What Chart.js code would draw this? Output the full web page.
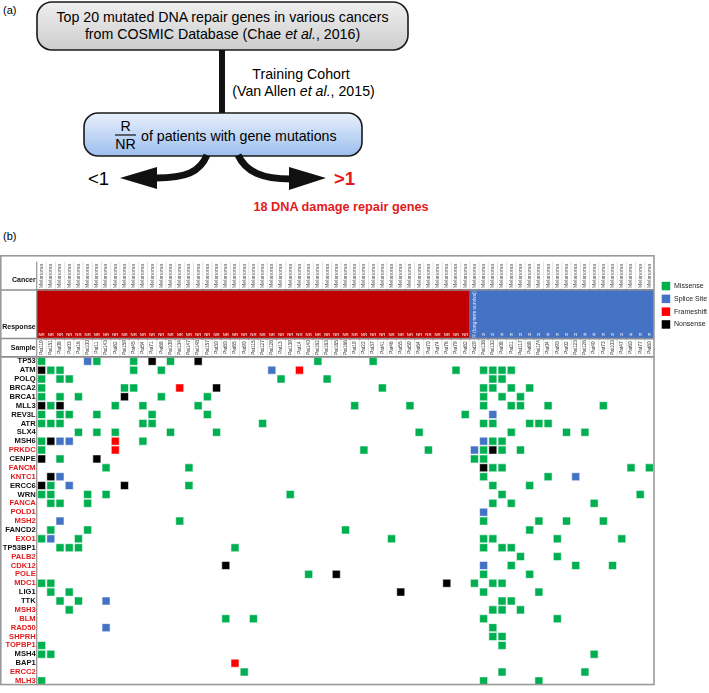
<!DOCTYPE html>
<html>
<head>
<meta charset="utf-8">
<script src="https://cdn.jsdelivr.net/npm/chart.js@4.4.0/dist/chart.umd.min.js"></script>
<style>
  html, body { margin: 0; padding: 0; background: #fff; }
  #wrap { position: relative; width: 709px; height: 693px; overflow: hidden; }
  #flow { position: absolute; left: 0; top: 0; font-family: 'Liberation Sans', Arial, sans-serif; }
  #oncoprint { position: absolute; left: 0; top: 255px; }
</style>
</head>
<body>
<div id="wrap">
  <!-- (a) workflow -->
  <svg id="flow" width="709" height="255">
    <defs>
      <linearGradient id="grayFill" x1="0" y1="0" x2="0" y2="1">
        <stop offset="0" stop-color="#efefef"/><stop offset="1" stop-color="#cdcdcd"/>
      </linearGradient>
      <linearGradient id="blueFill" x1="0" y1="0" x2="0" y2="1">
        <stop offset="0" stop-color="#e9f1fc"/><stop offset="1" stop-color="#9cbeee"/>
      </linearGradient>
    </defs>
    <text x="3" y="10" font-size="11" dominant-baseline="central">(a)</text>
    <rect x="37" y="2" width="371" height="48" rx="15" fill="url(#grayFill)" stroke="#1a1a1a" stroke-width="1.6"/>
    <text x="222.5" y="16.5" font-size="14.2" text-anchor="middle" dominant-baseline="central">Top 20 mutated DNA repair genes in various cancers</text>
    <text x="222.5" y="33.5" font-size="14.2" text-anchor="middle" dominant-baseline="central">from COSMIC Database (Chae <tspan font-style="italic">et al.</tspan>, 2016)</text>
    <line x1="222" y1="50" x2="222" y2="113" stroke="#111" stroke-width="6"/>
    <text x="301" y="74" font-size="14.2" text-anchor="middle" dominant-baseline="central">Training Cohort</text>
    <text x="303.5" y="91" font-size="14.2" text-anchor="middle" dominant-baseline="central">(Van Allen <tspan font-style="italic">et al.</tspan>, 2015)</text>
    <rect x="84" y="113" width="278" height="43" rx="14" fill="url(#blueFill)" stroke="#1a1a1a" stroke-width="1.6"/>
    <text x="125.5" y="126" font-size="14.2" text-anchor="middle" dominant-baseline="central">R</text>
    <line x1="115" y1="135" x2="136" y2="135" stroke="#111" stroke-width="1.2"/>
    <text x="125.5" y="144" font-size="14.2" text-anchor="middle" dominant-baseline="central">NR</text>
    <text x="141" y="136" font-size="14.2" dominant-baseline="central">of patients with gene mutations</text>
    <path d="M 207 155 C 200 172, 186 178, 156 178" fill="none" stroke="#111" stroke-width="7"/>
    <polygon points="120,178 157,167 157,189" fill="#111"/>
    <path d="M 238 155 C 246 172, 262 179, 291 179" fill="none" stroke="#111" stroke-width="7"/>
    <polygon points="326,178 289,167 289,190" fill="#111"/>
    <text x="98.5" y="178" font-size="18.5" text-anchor="middle" dominant-baseline="central">&lt;1</text>
    <text x="344.5" y="178" font-size="18.5" font-weight="bold" fill="#e31a1c" text-anchor="middle" dominant-baseline="central">&gt;1</text>
    <text x="341" y="207" font-size="12.7" font-weight="bold" fill="#e31a1c" text-anchor="middle" dominant-baseline="central">18 DNA damage repair genes</text>
    <text x="3" y="236" font-size="11" dominant-baseline="central">(b)</text>
  </svg>

  <!-- (b) oncoprint -->
  <canvas id="oncoprint" width="709" height="437"></canvas>
</div>

<script>
// ---- data ----
const nrSamples = ['Pat119','Pat151','Pat08','Pat03','Pat16','Pat100','Pat11','Pat143','Pat82','Pat159',
  'Pat45','Pat54','Pat71','Pat88','Pat109','Pat134','Pat147','Pat148','Pat157','Pat30','Pat80',
  'Pat85','Pat90','Pat115','Pat127','Pat128','Pat13','Pat139','Pat14','Pat140','Pat162','Pat163','Pat165',
  'Pat166','Pat19','Pat22','Pat37','Pat41','Pat46','Pat55','Pat59','Pat64','Pat70','Pat74','Pat76','Pat79','Pat82'];
const rSamples = ['Pat29','Pat138','Pat132','Pat08','Pat21','Pat117','Pat88','Pat174','Pat04','Pat90',
  'Pat02','Pat123','Pat126','Pat49','Pat73','Pat103','Pat47','Pat60','Pat77','Pat80'];
const longTermSurvivor = 'Pat29';
const cancerType = 'Melanoma';

const genes = ['TP53','ATM','POLQ','BRCA2','BRCA1','MLL3','REV3L','ATR','SLX4','MSH6','PRKDC','CENPE',
  'FANCM','KNTC1','ERCC6','WRN','FANCA','POLD1','MSH2','FANCD2','EXO1','TP53BP1','PALB2','CDK12','POLE',
  'MDC1','LIG1','TTK','MSH3','BLM','RAD50','SHPRH','TOPBP1','MSH4','BAP1','ERCC2','MLH3'];
// the 18 genes with R/NR > 1 (red labels)
const selectedGenes = ['PRKDC','FANCM','KNTC1','FANCA','POLD1','MSH2','EXO1','PALB2','CDK12','POLE',
  'MDC1','MSH3','BLM','RAD50','SHPRH','TOPBP1','ERCC2','MLH3'];

// [gene, sample column indexes]
const missense = [
  ['TP53', [0,6,10,14,30,36]],
  ['ATM', [1,2,10,13,45,48,49,50,51]],
  ['POLQ', [0,2,3,26,31,49,50]],
  ['BRCA2', [0,9,10,37,48,49,51,53]],
  ['BRCA1', [0,2,4,13,18,48,50,52]],
  ['MLL3', [1,8,11,17,34,40,48,51,52,55,61]],
  ['REV3L', [0,2,3,6,12,18,46]],
  ['ATR', [0,1,2,11,12,24,48,49,53,54,55]],
  ['SLX4', [4,6,8,14,19,41,51,57,59]],
  ['MSH6', [0,11,49,50]],
  ['PRKDC', [0,35,42,48,50,52]],
  ['CENPE', [2,47,48]],
  ['FANCM', [7,16,49,50,64,66]],
  ['KNTC1', [48,55]],
  ['ERCC6', [1,16,49,53]],
  ['WRN', [0,1,5,7,27,50,65]],
  ['FANCA', [1,2,5,49,51,60]],
  ['MSH2', [15,48,54,57,61]],
  ['FANCD2', [1,5,33,53]],
  ['EXO1', [0,4,38,48,49,56,63]],
  ['TP53BP1', [2,3,4,21,48,50,51]],
  ['PALB2', [52,56]],
  ['CDK12', [51,58,62]],
  ['POLE', [29,48,53]],
  ['MDC1', [0,1,47,49,50]],
  ['LIG1', [1,3,48,54]],
  ['TTK', [2,4,50,51]],
  ['MSH3', [3,49,50,52]],
  ['BLM', [20,23,48,56]],
  ['RAD50', [49]],
  ['SHPRH', [49,50]],
  ['TOPBP1', [0,50]],
  ['MSH4', [0,1,60]],
  ['ERCC2', [22,50,59]],
  ['MLH3', [0,48,54]]
];
const spliceSite = [
  ['TP53', [5]], ['ATM', [25]], ['REV3L', [49]], ['MSH6', [2,3,48]], ['PRKDC', [47]],
  ['KNTC1', [2,58]], ['ERCC6', [3]], ['POLD1', [48]], ['MSH2', [2]], ['EXO1', [1]],
  ['CDK12', [48]], ['TTK', [7]], ['RAD50', [7]]
];
const frameshift = [
  ['ATM', [28]], ['BRCA2', [15]], ['MSH6', [8]], ['PRKDC', [8]], ['BAP1', [21]]
];
const nonsense = [
  ['TP53', [12,17]], ['ATM', [0]], ['BRCA2', [19]], ['BRCA1', [9]], ['MLL3', [0,2]], ['MSH6', [1]],
  ['PRKDC', [49]], ['CENPE', [0,6]], ['FANCM', [48]], ['KNTC1', [1]], ['ERCC6', [0,9]],
  ['CDK12', [20]], ['POLE', [32]], ['MDC1', [44]], ['LIG1', [39]]
];

// ---- layout in y-axis units (one unit = one gene row) ----
const FONT = "'Liberation Sans', Arial, sans-serif";
const CANCER_TOP = -10.72, RESPONSE_TOP = -7.52, SAMPLE_TOP = -2.06;
const RED_LABEL = '#e31a1c';

const samples = nrSamples.concat(rSamples);

function toPoints(list) {
  const pts = [];
  list.forEach(([g, cols]) => cols.forEach(c => pts.push({ x: c, y: genes.indexOf(g) + 0.5 })));
  return pts;
}

const mutationTypes = [
  { label: 'Missense', data: missense, color: '#00b050' },
  { label: 'Splice Site', data: spliceSite, color: '#4472c4' },
  { label: 'Frameshift', data: frameshift, color: '#ff0000' },
  { label: 'Nonsense', data: nonsense, color: '#000000' }
];

function rotText(ctx, txt, px, py) {
  ctx.save();
  ctx.translate(px, py);
  ctx.rotate(-Math.PI / 2);
  ctx.fillText(txt, 0, 0);
  ctx.restore();
}

function hline(ctx, x0, x1, py) { ctx.beginPath(); ctx.moveTo(x0, py); ctx.lineTo(x1, py); ctx.stroke(); }
function vline(ctx, px, y0, y1) { ctx.beginPath(); ctx.moveTo(px, y0); ctx.lineTo(px, y1); ctx.stroke(); }

const oncoPlugin = {
  id: 'oncoHeader',
  beforeDatasetsDraw(chart) {
    const { ctx, scales: { x, y } } = chart;
    ctx.save();
    ctx.strokeStyle = '#cfcfcf';
    ctx.lineWidth = 0.6;
    for (let i = 1; i < samples.length; i++) {
      const px = x.getPixelForValue(i - 0.5);
      vline(ctx, px, y.getPixelForValue(CANCER_TOP), y.getPixelForValue(RESPONSE_TOP));
      vline(ctx, px, y.getPixelForValue(SAMPLE_TOP), y.getPixelForValue(0));
    }
    ctx.restore();
  },
  afterDatasetsDraw(chart) {
    const { ctx, chartArea: area, scales: { x, y } } = chart;
    ctx.save();
    ctx.textAlign = 'center';
    ctx.textBaseline = 'middle';

    // cancer type
    ctx.fillStyle = '#555';
    ctx.font = `5.2px ${FONT}`;
    const cancerMid = y.getPixelForValue((CANCER_TOP + RESPONSE_TOP) / 2);
    samples.forEach((s, i) => rotText(ctx, cancerType, x.getPixelForValue(i), cancerMid));

    // response text
    ctx.fillStyle = '#fff';
    ctx.font = `4.3px ${FONT}`;
    const respY = y.getPixelForValue(SAMPLE_TOP - 0.38);
    samples.forEach((s, i) => {
      if (i === nrSamples.length && s === longTermSurvivor) {
        ctx.save();
        ctx.font = `4.9px ${FONT}`;
        ctx.fillStyle = '#e8ecf8';
        ctx.textAlign = 'left';
        rotText(ctx, 'R (long term survival)', x.getPixelForValue(i), y.getPixelForValue(SAMPLE_TOP - 0.1));
        ctx.restore();
      } else {
        ctx.fillText(i < nrSamples.length ? 'NR' : 'R', x.getPixelForValue(i), respY);
      }
    });

    // sample names
    ctx.fillStyle = '#333';
    ctx.font = `4.8px ${FONT}`;
    const sampleMid = y.getPixelForValue(SAMPLE_TOP / 2);
    samples.forEach((s, i) => rotText(ctx, s, x.getPixelForValue(i), sampleMid));

    // frame lines
    ctx.strokeStyle = '#8c8c8c';
    ctx.lineWidth = 1.6;
    [RESPONSE_TOP, SAMPLE_TOP, 0].forEach(v => hline(ctx, 0, area.right, y.getPixelForValue(v)));
    ctx.strokeStyle = '#9a9a9a';
    ctx.lineWidth = 1.3;
    vline(ctx, area.left - 0.3, area.top, area.bottom);
    ctx.lineWidth = 1.6;
    ctx.strokeRect(0.8, 0.8, area.right - 0.8, area.bottom - 1.6);

    // row labels
    ctx.textAlign = 'right';
    ctx.fillStyle = '#111';
    ctx.font = `bold 7px ${FONT}`;
    ctx.fillText('Cancer', area.left - 1.3, y.getPixelForValue(-8.7));
    ctx.fillText('Response', area.left - 1.3, y.getPixelForValue(-3.4));
    ctx.fillText('Sample', area.left - 1.3, y.getPixelForValue(-1.0));
    ctx.font = `bold 7.6px ${FONT}`;
    genes.forEach((g, r) => {
      ctx.fillStyle = selectedGenes.includes(g) ? RED_LABEL : '#111';
      ctx.fillText(g, area.left - 1.3, y.getPixelForValue(r + 0.5));
    });

    // legend
    ctx.textAlign = 'left';
    ctx.font = `7px ${FONT}`;
    mutationTypes.forEach((t, k) => {
      const cy = 31 + k * 12.8;
      ctx.fillStyle = t.color;
      ctx.fillRect(area.right + 7.7, cy - 4.2, 8.5, 8.5);
      ctx.fillStyle = '#222';
      ctx.fillText(t.label, area.right + 20, cy);
    });
    ctx.restore();
  }
};

new Chart(document.getElementById('oncoprint'), {
  type: 'scatter',
  data: {
    datasets: [
      {
        type: 'bar',
        label: 'Response',
        data: samples.map((s, i) => ({ x: i, y: [RESPONSE_TOP, SAMPLE_TOP] })),
        backgroundColor: samples.map((s, i) => i < nrSamples.length ? '#c00000' : '#4472c4'),
        barPercentage: 1,
        categoryPercentage: 1,
        borderWidth: 0,
        inflateAmount: 0.7,
        order: 10
      },
      ...mutationTypes.map(t => ({
        label: t.label,
        data: toPoints(t.data),
        pointStyle: 'rect',
        pointRadius: 5.66,
        pointHoverRadius: 5.66,
        backgroundColor: t.color,
        borderColor: 'rgba(255,255,255,0.55)',
        borderWidth: 1,
        order: 0
      }))
    ]
  },
  options: {
    responsive: false,
    animation: false,
    layout: { padding: { left: 37, right: 55, top: 0, bottom: 0 } },
    plugins: { legend: { display: false }, tooltip: { enabled: false } },
    scales: {
      x: { type: 'linear', offset: false, grid: { offset: false }, min: -0.5, max: samples.length - 0.5, display: false },
      y: { type: 'linear', reverse: true, beginAtZero: false, min: CANCER_TOP, max: genes.length, display: false }
    }
  },
  plugins: [oncoPlugin]
});
</script>
</body>
</html>
